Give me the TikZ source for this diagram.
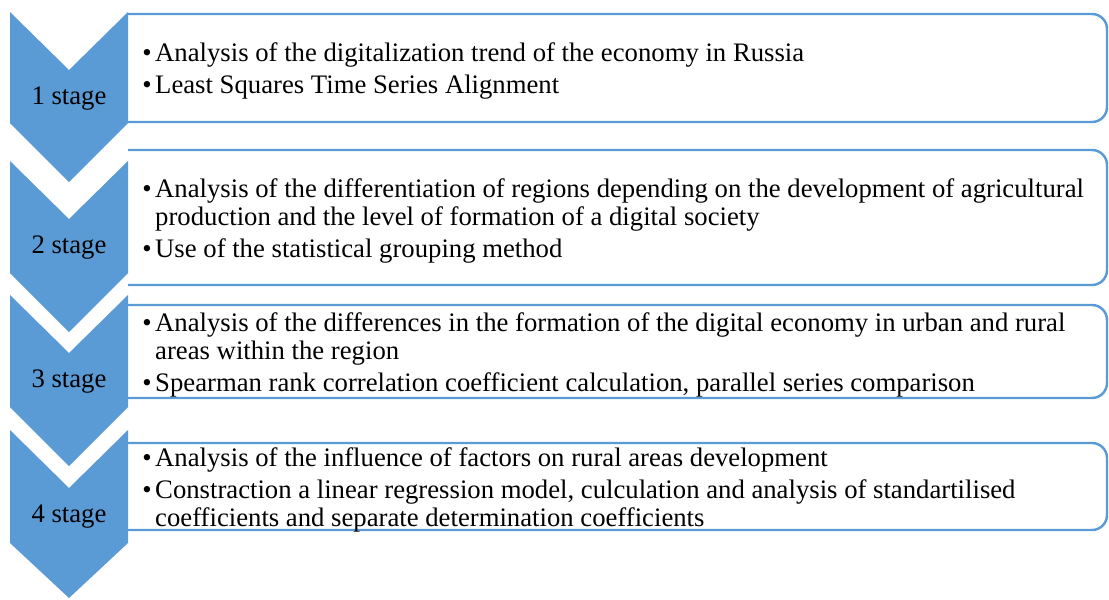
\documentclass[tikz,border=0pt]{standalone}
\usepackage{fontspec}
\setmainfont{Liberation Serif}
\definecolor{stageblue}{HTML}{5B9BD5}
\tikzstyle{chev}=[fill=stageblue]
\tikzstyle{box}=[draw=stageblue,line width=1.4pt,fill=white,rounded corners=8.5pt]
\tikzstyle{lbl}=[inner sep=0pt,font=\fontsize{15.2}{16}\selectfont]
\tikzstyle{txt}=[anchor=west,inner sep=0pt,font=\fontsize{15.2}{16}\selectfont]

\begin{document}
\begin{tikzpicture}[x=0.02cm,y=-0.02cm]
\useasboundingbox (0,0) rectangle (1109,599);
% boxes with the methods
\draw[box] (128,14) -- (1107,14) -- (1107,122) -- (128,122);
\draw[box] (128,150) -- (1107,150) -- (1107,285) -- (128,285);
\draw[box] (128,305) -- (1107,305) -- (1107,398) -- (128,398);
\draw[box] (128,443) -- (1107,443) -- (1107,530) -- (128,530);
% chevrons
\fill[chev] (10,12) -- (69,70) -- (128,12) -- (128,123) -- (69,182) -- (10,123) -- cycle;
\fill[chev] (10,161) -- (69,219) -- (128,161) -- (128,273) -- (69,332) -- (10,273) -- cycle;
\fill[chev] (10,295) -- (69,353) -- (128,295) -- (128,407) -- (69,466) -- (10,407) -- cycle;
\fill[chev] (10,430) -- (69,488) -- (128,430) -- (128,543) -- (69,598) -- (10,543) -- cycle;
\node[lbl] (s1) at (69,99) {1 stage};
\node[lbl] (s2) at (69,248) {2 stage};
\node[lbl] (s3) at (69,382) {3 stage};
\node[lbl] (s4) at (69,517) {4 stage};
% texts
\node[txt] (t1) at (142,72) {\begin{tabular}{@{}l@{\hspace{2pt}}l@{}}
\textbullet & Analysis of the digitalization trend of the economy in Russia\\[2pt]
\textbullet & Least Squares Time Series Alignment
\end{tabular}};
\node[txt] (t2) at (142,222) {\begin{tabular}{@{}l@{\hspace{2pt}}l@{}}
\textbullet & Analysis of the differentiation of regions depending on the development of agricultural\\
 & production and the level of formation of a digital society\\[2pt]
\textbullet & Use of the statistical grouping method
\end{tabular}};
\node[txt] (t3) at (142,356) {\begin{tabular}{@{}l@{\hspace{2pt}}l@{}}
\textbullet & Analysis of the differences in the formation of the digital economy in urban and rural\\
 & areas within the region\\[2pt]
\textbullet & Spearman rank correlation coefficient calculation, parallel series comparison
\end{tabular}};
\node[txt] (t4) at (142,491) {\begin{tabular}{@{}l@{\hspace{2pt}}l@{}}
\textbullet & Analysis of the influence of factors on rural areas development\\[2pt]
\textbullet & Constraction a linear regression model, culculation and analysis of standartilised\\
 & coefficients and separate determination coefficients
\end{tabular}};
\end{tikzpicture}
\end{document}
